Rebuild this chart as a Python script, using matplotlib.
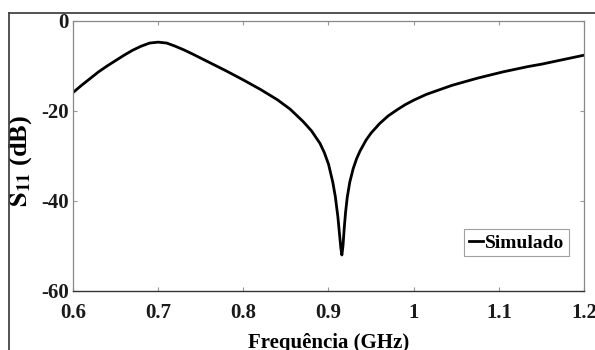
import matplotlib
matplotlib.use("Agg")
import matplotlib.pyplot as plt
from matplotlib.lines import Line2D

# frequency (GHz) and simulated S11 (dB)
freq = [0.600, 0.610, 0.620, 0.630, 0.640, 0.650, 0.660, 0.670, 0.680, 0.690,
        0.700, 0.710, 0.720, 0.730, 0.740, 0.760, 0.780, 0.800, 0.820, 0.840,
        0.855, 0.870, 0.880, 0.890, 0.895, 0.900, 0.905, 0.908, 0.911, 0.913,
        0.9145, 0.9157, 0.917, 0.9185, 0.920, 0.922, 0.925, 0.929, 0.933,
        0.937, 0.944, 0.950, 0.960, 0.970, 0.980, 0.990, 1.000, 1.015, 1.030,
        1.045, 1.060, 1.075, 1.090, 1.105, 1.120, 1.135, 1.150, 1.165, 1.180,
        1.190, 1.200]
s11 = [-15.9, -14.3, -12.8, -11.3, -10.0, -8.8, -7.6, -6.5, -5.6, -4.9,
       -4.7, -4.9, -5.6, -6.4, -7.3, -9.2, -11.1, -13.1, -15.2, -17.5,
       -19.6, -22.3, -24.4, -27.2, -29.2, -31.8, -35.8, -39.0, -43.5, -47.5,
       -50.5, -52.0, -50.0, -46.0, -42.6, -39.2, -35.8, -32.8, -30.6,
       -28.9, -26.5, -24.9, -22.8, -21.1, -19.8, -18.6, -17.6, -16.3, -15.3,
       -14.3, -13.5, -12.7, -12.0, -11.3, -10.7, -10.1, -9.6, -9.0, -8.4,
       -8.0, -7.6]

xticks = [0.6, 0.7, 0.8, 0.9, 1.0, 1.1, 1.2]
xticklabels = ["0.6", "0.7", "0.8", "0.9", "1", "1.1", "1.2"]
yticks = [-60, -40, -20, 0]

plt.rcParams['font.family'] = ['Liberation Serif', 'DejaVu Serif']
plt.rcParams['font.weight'] = 'bold'
plt.rcParams['axes.unicode_minus'] = False
plt.rcParams['mathtext.fontset'] = 'stix'

fig = plt.figure(figsize=(5.95, 3.5), dpi=100)
ax = fig.add_axes([0.1227, 0.1686, 0.8588, 0.7714])

ax.plot(freq, s11, color='black', linewidth=2.0, label='Simulado')

ax.set_xlim(0.6, 1.2)
ax.set_ylim(-60, 0)
ax.set_xticks(xticks)
ax.set_xticklabels(xticklabels)
ax.set_yticks(yticks)
ax.tick_params(direction='in', length=3, width=0.8, color='#999999',
               top=True, right=True, labelsize=15)
ax.tick_params(axis='x', pad=9)
ax.tick_params(axis='y', pad=3)
for lab in ax.get_xticklabels() + ax.get_yticklabels():
    lab.set_fontweight('bold')
    lab.set_color('#1a1a1a')

for side in ['top', 'right', 'left']:
    ax.spines[side].set_color('#888888')
    ax.spines[side].set_linewidth(0.9)
ax.spines['bottom'].set_color('#333333')
ax.spines['bottom'].set_linewidth(1.0)

ax.set_xlabel('Frequência (GHz)', fontsize=15, fontweight='bold', labelpad=0)
ax.xaxis.set_label_coords(0.5, -0.155)
ax.set_ylabel('$\\mathbf{S_{11}}$ (dB)', fontsize=19, fontweight='bold')
ax.yaxis.set_label_coords(-0.076, 0.48)

leg = ax.legend(loc='lower right', bbox_to_anchor=(0.97, 0.128), fontsize=14,
                frameon=True, fancybox=False, handlelength=0.7,
                handletextpad=0.1, borderpad=0.25, borderaxespad=0)
leg.get_frame().set_edgecolor('#888888')
leg.get_frame().set_linewidth(0.8)
for t in leg.get_texts():
    t.set_fontweight('bold')

# outer border of the original screenshot (top and left edges)
fig.add_artist(Line2D([9 / 595, 1.0], [1 - 13 / 350, 1 - 13 / 350],
                      transform=fig.transFigure, color='#444444', linewidth=1.3))
fig.add_artist(Line2D([9 / 595, 9 / 595], [0, 1 - 13 / 350],
                      transform=fig.transFigure, color='#444444', linewidth=1.3))

fig.savefig('out.png', dpi=100)
